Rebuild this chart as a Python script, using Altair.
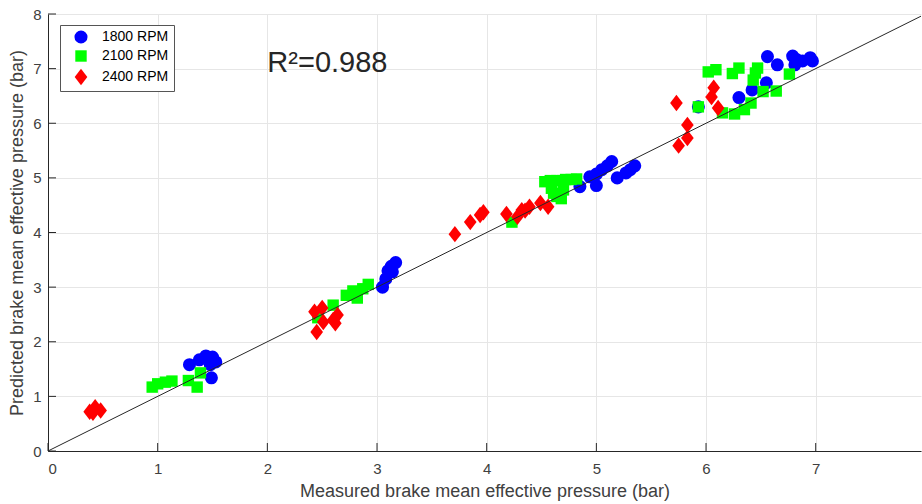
import altair as alt
import pandas as pd

FONT = "Liberation Sans"
series_names = ["1800 RPM", "2100 RPM", "2400 RPM"]
series_colors = ["#0000ff", "#00ff00", "#ff0000"]

# 1800 RPM
x_1800 = [1.29, 1.38, 1.44, 1.50, 1.53, 1.48, 1.49,
          3.05, 3.08, 3.10, 3.13, 3.17, 3.14,
          4.85, 4.94, 5.00, 5.05, 5.10, 5.14, 5.00, 5.19, 5.27, 5.31, 5.35,
          5.93, 6.30, 6.42, 6.55, 6.56, 6.65, 6.79, 6.81, 6.88, 6.95, 6.97, 6.83]
y_1800 = [1.58, 1.67, 1.74, 1.72, 1.63, 1.58, 1.34,
          3.00, 3.15, 3.30, 3.38, 3.45, 3.28,
          4.84, 5.02, 5.07, 5.15, 5.22, 5.30, 4.86, 5.00, 5.09, 5.15, 5.22,
          6.30, 6.47, 6.61, 6.74, 7.22, 7.07, 7.23, 7.07, 7.14, 7.20, 7.14, 7.16]

# 2100 RPM
x_2100 = [0.95, 1.00, 1.07, 1.13, 1.28, 1.36, 1.39,
          2.46, 2.60, 2.72, 2.78, 2.82, 2.87, 2.92,
          4.23, 4.53, 4.58, 4.64, 4.69, 4.72, 4.77, 4.82, 4.59, 4.61, 4.64, 4.68, 4.70,
          6.02, 6.09, 6.24, 6.30, 6.43, 6.45, 6.47, 6.52, 6.64, 6.76, 5.93, 6.15, 6.26, 6.35, 6.41]
y_2100 = [1.17, 1.23, 1.26, 1.28, 1.29, 1.17, 1.43,
          2.44, 2.67, 2.85, 2.93, 2.80, 2.97, 3.05,
          4.19, 4.93, 4.95, 4.95, 4.95, 4.97, 4.97, 4.98, 4.81, 4.72, 4.66, 4.62, 4.78,
          6.94, 6.98, 6.91, 7.01, 6.79, 6.92, 7.01, 6.58, 6.59, 6.90, 6.30, 6.19, 6.17, 6.25, 6.37]

# 2400 RPM
x_2400 = [0.38, 0.43, 0.48, 0.41,
          2.43, 2.50, 2.51, 2.45, 2.60, 2.64, 2.62,
          3.71, 3.85, 3.94, 3.97, 4.18, 4.28, 4.32, 4.39, 4.35, 4.49, 4.56,
          5.73, 5.83, 5.83, 5.75, 6.07, 6.05, 6.11]
y_2400 = [0.72, 0.80, 0.74, 0.70,
          2.55, 2.62, 2.36, 2.18, 2.40, 2.49, 2.34,
          3.97, 4.19, 4.32, 4.37, 4.34, 4.29, 4.41, 4.47, 4.40, 4.54, 4.47,
          6.37, 5.97, 5.73, 5.59, 6.65, 6.48, 6.28]

x_ticks = [0, 1, 2, 3, 4, 5, 6, 7]
y_ticks = [0, 1, 2, 3, 4, 5, 6, 7, 8]
x_max = 7.96
y_max = 8
r2_text = "R\u00b2=0.988"
r2_pos = (2.0, 6.93)

rows = []
for name, xs_, ys_ in zip(series_names, [x_1800, x_2100, x_2400], [y_1800, y_2100, y_2400]):
    for xv, yv in zip(xs_, ys_):
        rows.append({"measured": xv, "predicted": yv, "series": name})
df = pd.DataFrame(rows)

W, H = 873, 437
xs = alt.Scale(domain=[0, x_max], nice=False, zero=False)
ys = alt.Scale(domain=[0, y_max], nice=False, zero=False)

diamond = "M0,-1.3L1,0L0,1.3L-1,0Z"
leg = alt.Legend(title=None, orient="none", legendX=12, legendY=11,
                 fillColor="white", strokeColor="#555555", padding=5,
                 symbolOffset=9, labelOffset=14, rowPadding=5,
                 labelFont=FONT, labelFontSize=14, labelColor="#000000",
                 symbolStrokeWidth=0)

points = alt.Chart(df).mark_point(filled=True, opacity=1, strokeWidth=0).encode(
    x=alt.X("measured:Q", scale=xs,
            axis=alt.Axis(values=x_ticks, title="Measured brake mean effective pressure (bar)",
                          format="d")),
    y=alt.Y("predicted:Q", scale=ys,
            axis=alt.Axis(values=y_ticks, title="Predicted brake mean effective pressure (bar)",
                          format="d")),
    color=alt.Color("series:N", scale=alt.Scale(domain=series_names, range=series_colors), legend=leg),
    shape=alt.Shape("series:N", scale=alt.Scale(domain=series_names, range=["circle", "square", diamond]), legend=leg),
    size=alt.Size("series:N", scale=alt.Scale(type="ordinal", domain=series_names, range=[170, 130, 160]), legend=leg),
    order=alt.Order("idx:Q"),
).transform_calculate(idx="datum.series == '1800 RPM' ? 0 : (datum.series == '2100 RPM' ? 1 : 2)")

line_df = pd.DataFrame({"measured": [0, x_max], "predicted": [0, x_max]})
line = alt.Chart(line_df).mark_line(color="#262626", strokeWidth=1).encode(
    x=alt.X("measured:Q", scale=xs), y=alt.Y("predicted:Q", scale=ys))

xt = alt.Chart(pd.DataFrame({"v": x_ticks})).mark_rule(color="#262626", strokeWidth=1).encode(
    x=alt.X("v:Q", scale=xs), y=alt.value(H), y2=alt.value(H - 8))
yt = alt.Chart(pd.DataFrame({"v": y_ticks})).mark_rule(color="#262626", strokeWidth=1).encode(
    y=alt.Y("v:Q", scale=ys), x=alt.value(0), x2=alt.value(8))

r2 = alt.Chart(pd.DataFrame({"x": [r2_pos[0]], "y": [r2_pos[1]], "t": [r2_text]})).mark_text(
    align="left", baseline="alphabetic", font=FONT, fontSize=29, color="#262626").encode(
    x=alt.X("x:Q", scale=xs), y=alt.Y("y:Q", scale=ys), text="t:N")

chart = alt.layer(points, line, xt, yt, r2).properties(
    width=W, height=H,
    autosize=alt.AutoSizeParams(type="none"),
    padding={"left": 48, "top": 14, "right": 1, "bottom": 53},
).configure_view(stroke=None).configure_axis(
    domainColor="#262626", domainWidth=1, ticks=False,
    grid=True, gridColor="#e6e6e6", gridWidth=1,
    labelFont=FONT, labelFontSize=15, labelColor="#404040",
    titleFont=FONT, titleFontSize=18, titleColor="#404040", titleFontWeight="normal",
).configure_axisX(labelPadding=10, titlePadding=6).configure_axisY(labelPadding=7, titlePadding=6)

chart.save("out.html", embed_options={"renderer": "svg", "actions": False})
